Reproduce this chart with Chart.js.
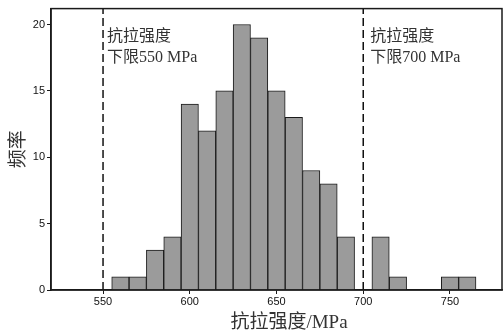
<!DOCTYPE html>
<html>
<head>
<meta charset="utf-8">
<script src="https://cdn.jsdelivr.net/npm/chart.js@4.4.1/dist/chart.umd.min.js"></script>
<style>
  html, body { margin: 0; padding: 0; background: #fff; }
</style>
</head>
<body>
<canvas id="c" width="504" height="335"></canvas>
<script>
// 直方图数据：每个柱子的起点（组距 10 MPa）和频数
const binStarts = [555, 565, 575, 585, 595, 605, 615, 625, 635, 645, 655, 665, 675, 685, 695, 705, 715, 725, 735, 745, 755]
const counts    = [1,   1,   3,   4,   14,  12,  15,  20,  19,  15,  13,  9,   8,   4,   0,   4,   1,   0,   0,   1,   1]
const binWidth = 10

// 下限虚线与标注
const limitValues = [550, 700]
const limitLabels = [['抗拉强度', '下限550 MPa'], ['抗拉强度', '下限700 MPa']]

const xTicks = [550, 600, 650, 700, 750]
const yTicks = [0, 5, 10, 15, 20]
const xRange = [520, 780]
const yRange = [0, 21.2]
const xTitle = '抗拉强度/MPa'
const yTitle = '频率'

const INK = '#1a1a1a'
const TEXT = '#333'

// 外框、标注文字和坐标轴标题
const decor = {
  id: 'decor',
  afterDraw(chart) {
    const { ctx, chartArea: a, scales } = chart
    ctx.save()
    ctx.strokeStyle = INK
    ctx.lineWidth = 1.5
    ctx.strokeRect(a.left, a.top, a.right - a.left, a.bottom - a.top)

    ctx.fillStyle = TEXT
    ctx.textBaseline = 'middle'
    ctx.textAlign = 'left'
    ctx.font = '16px "Liberation Serif", "Noto Sans CJK SC", serif'
    const offs = [4, 7]
    limitValues.forEach((v, i) => {
      const x = scales.x.getPixelForValue(v) + offs[i]
      limitLabels[i].forEach((line, j) => {
        ctx.fillText(line, x, a.top + 28 + j * 21)
      })
    })

    ctx.font = '19px "Liberation Serif", "Noto Sans CJK SC", serif'
    ctx.textAlign = 'center'
    ctx.fillText(xTitle, 289, 323)

    ctx.translate(19, (a.top + a.bottom) / 2)
    ctx.rotate(-Math.PI / 2)
    ctx.fillText(yTitle, 0, 0)
    ctx.restore()
  }
}

const barData = binStarts.map((s, i) => ({ x: s + binWidth / 2, y: counts[i] }))

const limitSets = limitValues.map(v => ({
  type: 'line',
  data: [{ x: v, y: yRange[0] }, { x: v, y: yRange[1] }],
  borderColor: '#111',
  borderWidth: 1.5,
  borderDash: [8, 4],
  pointRadius: 0,
  fill: false
}))

new Chart(document.getElementById('c'), {
  type: 'bar',
  data: {
    datasets: [
      {
        type: 'bar',
        data: barData,
        backgroundColor: '#9b9b9b',
        borderColor: INK,
        borderWidth: 1,
        barPercentage: 1,
        categoryPercentage: 1
      },
      ...limitSets
    ]
  },
  options: {
    responsive: false,
    animation: false,
    devicePixelRatio: 1,
    layout: { padding: { top: 6, right: 2, left: 0, bottom: 0 } },
    plugins: { legend: { display: false }, tooltip: { enabled: false } },
    scales: {
      x: {
        type: 'linear',
        min: xRange[0],
        max: xRange[1],
        offset: false,
        afterBuildTicks: s => { s.ticks = xTicks.map(v => ({ value: v })) },
        afterFit: s => { s.height = 45 },
        grid: { offset: false, drawOnChartArea: false, tickLength: 4, color: INK },
        border: { color: INK, width: 1.5 },
        ticks: { color: '#111', padding: 1, maxRotation: 0, font: { family: 'Liberation Sans', size: 11 } }
      },
      y: {
        min: yRange[0],
        max: yRange[1],
        afterBuildTicks: s => { s.ticks = yTicks.map(v => ({ value: v })) },
        afterFit: s => { s.width = 51 },
        grid: { drawOnChartArea: false, tickLength: 4, color: INK },
        border: { color: INK, width: 1.5 },
        ticks: { color: '#111', padding: 2, font: { family: 'Liberation Sans', size: 11 } }
      }
    }
  },
  plugins: [decor]
})
</script>
</body>
</html>
